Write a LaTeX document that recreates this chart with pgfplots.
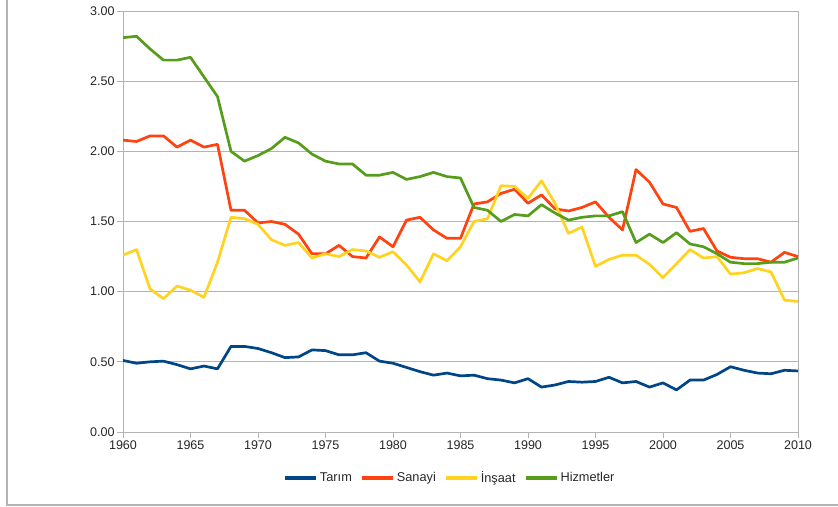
\documentclass[border=0pt]{standalone}
\usepackage{pgfplots}
\pgfplotsset{compat=1.18}
\usepackage{pgfplotstable}
\usepackage{fontspec}
\setmainfont{Liberation Sans}
\definecolor{cTar}{HTML}{004586}
\definecolor{cSan}{HTML}{FF420E}
\definecolor{cIns}{HTML}{FFD320}
\definecolor{cHiz}{HTML}{579D1C}
\definecolor{axgray}{HTML}{B3B3B3}
\pgfplotstableread{
year tar san ins hiz
1960 0.51 2.08 1.26 2.81
1961 0.49 2.07 1.30 2.82
1962 0.50 2.11 1.02 2.73
1963 0.505 2.11 0.95 2.65
1964 0.48 2.03 1.04 2.65
1965 0.45 2.08 1.01 2.67
1966 0.47 2.03 0.96 2.53
1967 0.45 2.05 1.21 2.39
1968 0.61 1.58 1.53 2.00
1969 0.61 1.58 1.52 1.93
1970 0.595 1.49 1.48 1.97
1971 0.565 1.50 1.37 2.02
1972 0.53 1.48 1.33 2.10
1973 0.535 1.41 1.35 2.06
1974 0.585 1.27 1.24 1.98
1975 0.58 1.27 1.27 1.93
1976 0.55 1.33 1.25 1.91
1977 0.55 1.25 1.30 1.91
1978 0.565 1.24 1.29 1.83
1979 0.505 1.39 1.245 1.83
1980 0.49 1.32 1.285 1.85
1981 0.46 1.51 1.19 1.80
1982 0.43 1.53 1.07 1.82
1983 0.405 1.44 1.27 1.85
1984 0.42 1.38 1.22 1.82
1985 0.40 1.38 1.32 1.81
1986 0.405 1.625 1.50 1.60
1987 0.38 1.64 1.52 1.58
1988 0.37 1.70 1.755 1.50
1989 0.35 1.73 1.75 1.55
1990 0.38 1.63 1.665 1.54
1991 0.32 1.69 1.79 1.62
1992 0.335 1.59 1.63 1.56
1993 0.36 1.575 1.415 1.51
1994 0.355 1.60 1.46 1.53
1995 0.36 1.64 1.18 1.54
1996 0.39 1.53 1.23 1.54
1997 0.35 1.44 1.26 1.57
1998 0.36 1.87 1.26 1.35
1999 0.32 1.78 1.195 1.41
2000 0.35 1.625 1.10 1.35
2001 0.30 1.60 1.20 1.42
2002 0.37 1.43 1.30 1.34
2003 0.37 1.45 1.24 1.32
2004 0.41 1.29 1.25 1.27
2005 0.465 1.245 1.125 1.21
2006 0.44 1.235 1.135 1.20
2007 0.42 1.235 1.165 1.20
2008 0.415 1.21 1.14 1.21
2009 0.44 1.28 0.94 1.21
2010 0.435 1.25 0.93 1.24
}\data
\begin{document}
\begin{tikzpicture}
\path[use as bounding box] (0,0) rectangle (838bp,-507bp);
\draw[axgray, line width=1.5bp] (7bp,0) -- (7bp,-505bp) -- (838bp,-505bp);
\begin{axis}[
  at={(123bp,-432bp)}, anchor=origin,
  scale only axis,
  width=675bp, height=421bp,
  xmin=1960, xmax=2010, ymin=0, ymax=3,
  xtick={1960,1965,...,2010},
  ytick={0,0.5,...,3},
  axis line style={axgray, line width=1bp},
  ymajorgrids,
  grid style={axgray, line width=1bp},
  tick style={axgray, line width=1bp},
  tick align=outside,
  major tick length=6bp,
  xtick pos=bottom, ytick pos=left,
  every tick label/.append style={font=\fontsize{12.6}{15}\selectfont, text=black!85},
  x tick label style={/pgf/number format/1000 sep={}, yshift=1bp},
  y tick label style={/pgf/number format/fixed, /pgf/number format/zerofill, /pgf/number format/precision=2, xshift=1bp},
  /pgf/number format/assume math mode=true,
  legend columns=4,
  legend style={at={(0.484,-0.109)}, anchor=center, draw=none, fill=none,
    font=\fontsize{12.8}{15}\selectfont, text=black!85,
    /tikz/every even column/.append style={column sep=6bp},
    inner sep=0pt},
  legend image code/.code={\draw[line width=4bp] (0bp,0bp) -- (31bp,0bp);},
  every axis plot/.append style={line width=2.7bp, line join=round},
]
\addplot[cTar] table[x=year,y=tar] {\data};
\addlegendentry{Tarım}
\addplot[cSan] table[x=year,y=san] {\data};
\addlegendentry{Sanayi}
\addplot[cIns] table[x=year,y=ins] {\data};
\addlegendentry{İnşaat}
\addplot[cHiz] table[x=year,y=hiz] {\data};
\addlegendentry{Hizmetler}
\end{axis}
\end{tikzpicture}
\end{document}
